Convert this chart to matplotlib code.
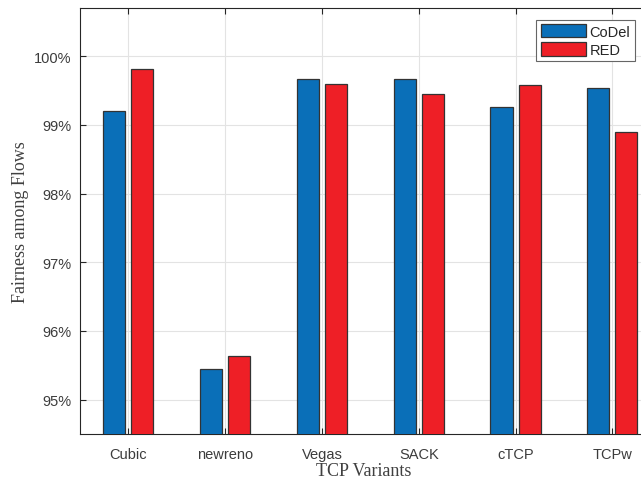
import numpy as np
from matplotlib import pyplot as plt
from matplotlib.ticker import FuncFormatter

variants = ['Cubic', 'newreno', 'Vegas', 'SACK', 'cTCP', 'TCPw']
codel = [99.20, 95.44, 99.66, 99.66, 99.26, 99.54]
red = [99.81, 95.64, 99.60, 99.45, 99.58, 98.90]
yticks = [95, 96, 97, 98, 99, 100]

dark = '#3c3c3c'
fig = plt.figure(figsize=(6.41, 4.81), dpi=100)
ax = fig.add_axes([0.1248, 0.0956, 0.906, 0.8857])

x = np.arange(1, len(variants) + 1)
w = 0.228
ax.bar(x - 0.145, codel, w, color='#0A6FB8', edgecolor='#333333', linewidth=0.9,
       label='CoDel', zorder=3)
ax.bar(x + 0.145, red, w, color='#EE1F26', edgecolor='#333333', linewidth=0.9,
       label='RED', zorder=3)

ax.set_xlim(0.5, 6.5)
ax.set_ylim(94.5, 100.7)
ax.set_xticks(x)
ax.set_xticklabels(variants)
ax.set_yticks(yticks)
ax.yaxis.set_major_formatter(FuncFormatter(lambda v, p: '%d%%' % v))

ax.grid(True, color='#e3e3e3', linewidth=0.8, zorder=0)
ax.set_axisbelow(True)
for s in ax.spines.values():
    s.set_color('#262626')
    s.set_linewidth(0.8)
ax.tick_params(direction='in', length=4, width=0.8, colors='#262626', top=True, right=True,
               labelsize=10.5, labelcolor=dark)
ax.tick_params(axis='x', pad=9)
ax.tick_params(axis='y', pad=6)
for lbl in ax.get_xticklabels() + ax.get_yticklabels():
    lbl.set_family('Liberation Sans')

ax.set_xlabel('TCP Variants', family='Liberation Serif', fontsize=13, color='#404040',
              labelpad=1)
ax.xaxis.label.set_x(0.488)
ax.set_ylabel('Fairness among Flows', family='Liberation Serif', fontsize=13,
              color='#404040', labelpad=4)

leg = ax.legend(loc='upper left', bbox_to_anchor=(0.786, 0.972), fancybox=False,
                framealpha=1, edgecolor='#666666', handlelength=3.1, handleheight=1.0,
                handletextpad=0.25, labelspacing=0.25, borderpad=0.3, borderaxespad=0,
                prop={'family': 'Liberation Sans', 'size': 10.5})
leg.get_frame().set_linewidth(0.8)
for t in leg.get_texts():
    t.set_color('#262626')

plt.savefig('out.png')
